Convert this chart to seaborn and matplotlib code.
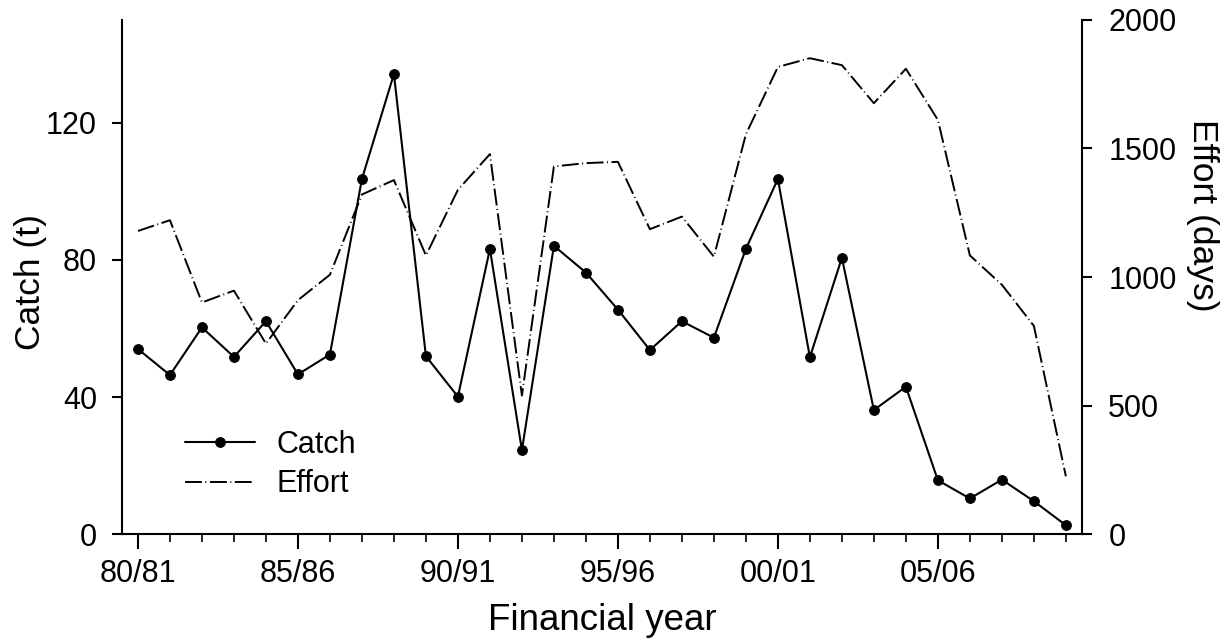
import matplotlib
matplotlib.use('Agg')
import matplotlib.pyplot as plt
from matplotlib.ticker import MultipleLocator
import pandas as pd
import seaborn as sns

# financial years 80/81 .. 09/10
years = list(range(1980, 2010))
year_labels = ['80/81', '85/86', '90/91', '95/96', '00/01', '05/06']

catch = [54.0, 46.4, 60.3, 51.7, 62.1, 46.6, 52.4, 103.6, 134.2, 51.9,
         40.1, 83.2, 24.5, 84.1, 76.3, 65.5, 53.7, 62.1, 57.3, 83.2,
         103.6, 51.6, 80.6, 36.2, 43.0, 15.7, 10.4, 15.9, 9.6, 2.6]

effort = [1179, 1221, 901, 947, 741, 910, 1009, 1321, 1377, 1084,
          1339, 1478, 539, 1430, 1443, 1448, 1186, 1235, 1079, 1555,
          1817, 1851, 1824, 1676, 1810, 1611, 1084, 970, 810, 225]

df = pd.DataFrame({'year': years, 'catch': catch, 'effort': effort})
df['idx'] = range(len(df))

sns.set_style('ticks')
plt.rcParams['font.family'] = ['Liberation Sans', 'DejaVu Sans']
plt.rcParams['text.color'] = 'black'
plt.rcParams['axes.labelcolor'] = 'black'
plt.rcParams['xtick.color'] = 'black'
plt.rcParams['ytick.color'] = 'black'
plt.rcParams['axes.edgecolor'] = 'black'

fig, ax = plt.subplots(figsize=(12.28, 6.42), dpi=100)
fig.subplots_adjust(left=0.0993, right=0.881, bottom=0.168, top=0.969)

sns.lineplot(data=df, x='idx', y='catch', ax=ax, color='black', linewidth=1.5,
             marker='o', markersize=7, markeredgecolor='black', label='Catch',
             legend=False)

ax2 = ax.twinx()
sns.lineplot(data=df, x='idx', y='effort', ax=ax2, color='black', linewidth=1.4,
             label='Effort', legend=False)
# long dash, short gap, tiny dot, short gap
ax2.lines[0].set_dashes([8.7, 1.8, 0.5, 1.8])

ax.set_xlim(-0.5, 29.5)
ax.set_ylim(0, 150)
ax2.set_ylim(0, 2000)

ax.set_xticks(range(0, 30, 5))
ax.set_xticklabels(year_labels)
ax.xaxis.set_minor_locator(MultipleLocator(1))
ax.set_yticks([0, 40, 80, 120])
ax2.set_yticks([0, 500, 1000, 1500, 2000])

for a in (ax, ax2):
    a.spines['top'].set_visible(False)
    for s in a.spines.values():
        s.set_linewidth(1.5)
ax.spines['right'].set_visible(False)
ax2.spines['left'].set_visible(False)
ax2.spines['bottom'].set_visible(False)

ax.tick_params(axis='x', which='major', labelsize=22, length=11, width=1.5, pad=7)
ax.tick_params(axis='x', which='minor', length=6, width=1.2)
ax.tick_params(axis='y', which='major', labelsize=22, length=7, width=1.5, pad=11)
ax2.tick_params(axis='y', labelsize=22, length=7, width=1.5, pad=12)

ax.set_xlabel('Financial year', fontsize=26.5, labelpad=10)
ax.set_ylabel('Catch (t)', fontsize=25.5)
ax.yaxis.set_label_coords(-0.078, 0.49)
ax2.set_ylabel('Effort (days)', fontsize=25.5, rotation=270, va='bottom')
ax2.yaxis.set_label_coords(1.108, 0.62)

h1, l1 = ax.get_legend_handles_labels()
h2, l2 = ax2.get_legend_handles_labels()
ax.legend(h1 + h2, l1 + l2, loc='center left', bbox_to_anchor=(0.0656, 0.135),
          frameon=False, fontsize=22, handlelength=2.3, handletextpad=0.7,
          labelspacing=0.3, borderaxespad=0, borderpad=0)

fig.savefig('out.png', dpi=100)
